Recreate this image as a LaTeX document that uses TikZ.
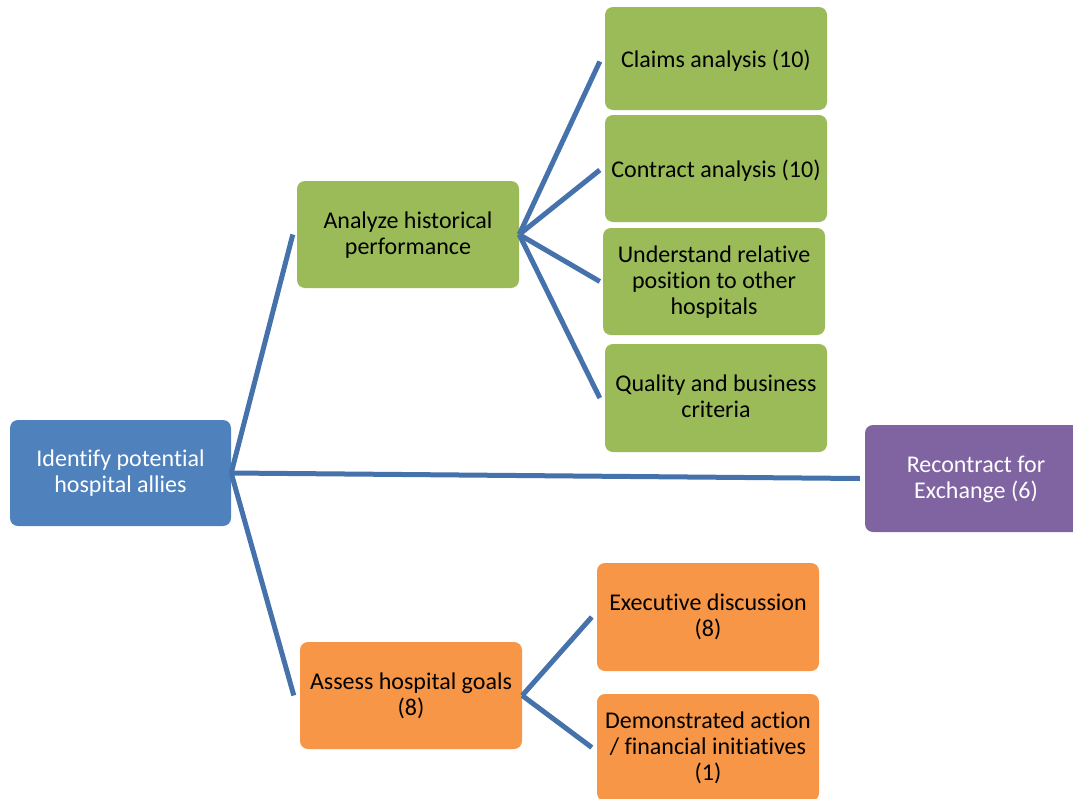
\documentclass[tikz,border=0pt]{standalone}
\usepackage{fontspec}
\setmainfont{Carlito}[Ligatures=NoCommon]
\definecolor{rootblue}{HTML}{4F81BD}
\definecolor{leafgreen}{HTML}{9BBB59}
\definecolor{goalorange}{HTML}{F79646}
\definecolor{recpurple}{HTML}{8064A2}
\definecolor{linkblue}{HTML}{4672AC}
\begin{document}
\begin{tikzpicture}[x=1pt,y=-1pt]
        \tikzstyle{task}=[rounded corners=8pt,minimum width=222pt,minimum height=107pt,inner sep=2pt,align=center,text depth=3pt,font=\fontsize{24}{26}\selectfont]
        \tikzstyle{link}=[draw=linkblue,line width=5pt]
        \useasboundingbox (0,0) rectangle (1073,798);
       \begin{scope}
         \node [task,fill=rootblue,text=white,minimum width=221pt,minimum height=106pt] (ident) at (120.5,473) {Identify potential\\hospital allies};
         \node [task,fill=leafgreen] (anlz) at (408,234.5) {Analyze historical\\performance};
         \node [task,fill=leafgreen,minimum height=103pt,text depth=-1pt] (claims) at (716,58.5) {Claims analysis (10)};
         \node [task,fill=leafgreen,text depth=0pt] (contract) at (716,168.5) {Contract analysis (10)};
         \node [task,fill=leafgreen] (relpos) at (714,281.5) {Understand relative\\position to other\\hospitals};
         \node [task,fill=leafgreen,minimum height=108pt] (quality) at (716,398) {Quality and business\\criteria};
         \node [task,fill=recpurple,text=white] (recon) at (976,478.5) {Recontract for\\Exchange (6)};
         \node [task,fill=goalorange] (assess) at (411,695.5) {Assess hospital goals\\(8)};
         \node [task,fill=goalorange,minimum height=108pt] (exec) at (708,617) {Executive discussion\\(8)};
         \node [task,fill=goalorange] (demo) at (708,747.5) {Demonstrated action\\/ financial initiatives\\(1)};
         % first level
         \draw[link] (ident.east) -- ([xshift=-4pt]anlz.west);
         \draw[link] (ident.east) -- ([xshift=-5pt]recon.west);
         \draw[link] (ident.east) -- ([xshift=-6pt]assess.west);
         % second level
         \draw[link] (anlz.east) -- ([xshift=-5pt,yshift=-3pt]claims.west);
         \draw[link] (anlz.east) -- ([xshift=-5pt,yshift=-1.5pt]contract.west);
         \draw[link] (anlz.east) -- ([xshift=-3pt]relpos.west);
         \draw[link] (anlz.east) -- ([xshift=-5pt]quality.west);
         \draw[link] (assess.east) -- ([xshift=-5pt]exec.west);
         \draw[link] (assess.east) -- ([xshift=-5pt]demo.west);
        \end{scope}
      \end{tikzpicture}
\end{document}
